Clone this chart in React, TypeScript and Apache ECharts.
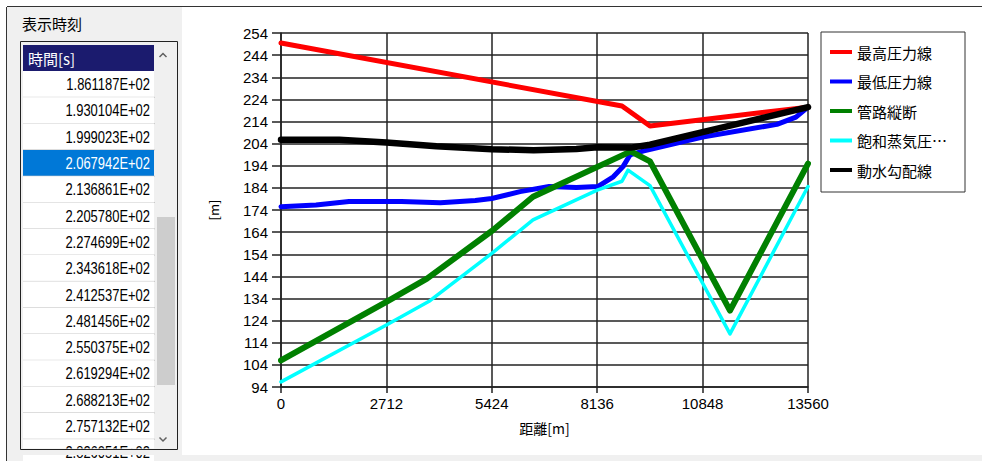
import React, { useEffect, useRef } from "react";
import * as echarts from "echarts";

// ---- axis ranges / ticks ----
const X_MAX = 13560;
const X_INTERVAL = 2712;
const Y_MIN = 94;
const Y_MAX = 254;
const Y_INTERVAL = 10;

// ---- series names (legend) ----
const SERIES_NAMES = ["最高圧力線", "最低圧力線", "管路縦断", "飽和蒸気圧線", "動水勾配線"];
const LEGEND_LABELS = ["最高圧力線", "最低圧力線", "管路縦断", "飽和蒸気圧…", "動水勾配線"];

// ---- data (distance [m], head [m]) ----
const RED_X = [0, 8774, 9494, 13560];
const RED_Y = [249.5, 221, 212, 220.5];

const BLUE_X = [0, 900, 1750, 3100, 4100, 5000, 5424, 6150, 6900, 7600, 8150, 8550, 8800, 8980, 9314, 10848, 12760, 13250, 13560];
const BLUE_Y = [175.5, 176.3, 177.8, 177.8, 177.3, 178.3, 179.2, 182.3, 184.6, 184.2, 184.6, 189, 193.6, 198.9, 200.6, 207, 212.7, 216, 220.5];

const GREEN_X = [0, 2712, 3756, 5424, 6484, 9000, 9494, 11553, 13560];
const GREEN_Y = [106, 132.5, 143, 164.5, 180, 200.5, 196, 128.5, 195];

const CYAN_X = [0, 2712, 3834, 5424, 6484, 8136, 8774, 8930, 9494, 11553, 13560];
const CYAN_Y = [96.3, 122, 133, 154.4, 169.5, 183, 187, 192, 185, 118, 184.6];

const BLACK_X = [0, 1500, 2712, 4000, 5424, 6500, 7600, 8136, 9000, 9494, 10848, 12400, 13560];
const BLACK_Y = [205.7, 205.7, 204.5, 202.8, 201.5, 201, 201.6, 202.4, 202.2, 203.5, 209.2, 215.6, 220.5];

// ---- list panel ----
const PANEL_TITLE = "表示時刻";
const LIST_HEADER = "時間[s]";
const LIST_TIMES = [
  "1.861187E+02", "1.930104E+02", "1.999023E+02", "2.067942E+02", "2.136861E+02",
  "2.205780E+02", "2.274699E+02", "2.343618E+02", "2.412537E+02", "2.481456E+02",
  "2.550375E+02", "2.619294E+02", "2.688213E+02", "2.757132E+02", "2.826051E+02",
];
const SELECTED_INDEX = 3;

const X_NAME = "距離[m]";
const Y_NAME = "[m]";

const CJK = "'Noto Sans CJK JP', 'Noto Sans', sans-serif";
const LATIN = "'Liberation Sans', Arial, sans-serif";

function pairs(xs: number[], ys: number[]) {
  return xs.map((x, i) => [x, ys[i] - Y_MIN]);
}

function buildGraphic() {
  const g: any[] = [];
  g.push({ type: "rect", shape: { x: 7, y: 7, width: 175, height: 454 }, style: { fill: "#f0f0f0" } });
  g.push({ type: "rect", shape: { x: 7, y: 455, width: 975, height: 6 }, style: { fill: "#f0f0f0" } });
  g.push({ type: "line", shape: { x1: 7, y1: 6.5, x2: 982, y2: 6.5 }, style: { stroke: "#333", lineWidth: 1 } });
  g.push({ type: "line", shape: { x1: 6.5, y1: 7, x2: 6.5, y2: 461 }, style: { stroke: "#333", lineWidth: 1 } });
  g.push({
    type: "text", x: 22, y: 23,
    style: { text: PANEL_TITLE, fontSize: 15, fontFamily: CJK, fill: "#000", align: "left", verticalAlign: "middle", textAlign: "left", textVerticalAlign: "middle" },
  });
  g.push({ type: "rect", shape: { x: 21, y: 42, width: 156, height: 407 }, style: { fill: "#f0f0f0" } });
  g.push({ type: "rect", shape: { x: 23, y: 45, width: 131, height: 26 }, style: { fill: "#1b1b6e" } });
  g.push({
    type: "text", x: 28, y: 58,
    style: { text: LIST_HEADER, fontSize: 15, fontFamily: CJK, fill: "#fff", align: "left", verticalAlign: "middle", textAlign: "left", textVerticalAlign: "middle" },
  });
  const rowH = 26.3;
  LIST_TIMES.forEach((t, i) => {
    const y0 = 71 + i * rowH;
    const sel = i === SELECTED_INDEX;
    g.push({ type: "rect", shape: { x: 23, y: y0, width: 131, height: rowH }, style: { fill: sel ? "#0078d7" : "#ffffff" } });
    g.push({ type: "line", shape: { x1: 23, y1: y0 + rowH, x2: 155, y2: y0 + rowH }, style: { stroke: "#c8c8c8", lineWidth: 1 } });
    g.push({
      type: "text", x: 150, y: y0 + rowH / 2 + 0.5, scaleX: 0.81,
      style: { text: t, fontSize: 16, fontFamily: LATIN, fill: sel ? "#fff" : "#000", align: "right", verticalAlign: "middle", textAlign: "right", textVerticalAlign: "middle" },
    });
  });
  g.push({ type: "rect", shape: { x: 155, y: 43, width: 22, height: 406 }, style: { fill: "#f0f0f0" } });
  g.push({ type: "rect", shape: { x: 157, y: 217, width: 18, height: 168 }, style: { fill: "#cdcdcd" } });
  g.push({ type: "polyline", shape: { points: [[159.5, 57], [163, 53.5], [166.5, 57]] }, style: { stroke: "#606060", lineWidth: 1.5, fill: null } });
  g.push({ type: "polyline", shape: { points: [[159.5, 437.5], [163, 441], [166.5, 437.5]] }, style: { stroke: "#606060", lineWidth: 1.5, fill: null } });
  g.push({ type: "rect", shape: { x: 8, y: 448.5, width: 174, height: 6.5 }, style: { fill: "#f0f0f0" } });
  g.push({ type: "rect", shape: { x: 20.5, y: 41.5, width: 157, height: 408 }, style: { fill: null, stroke: "#222", lineWidth: 1 } });
  return g;
}

export default function App() {
  const ref = useRef<HTMLDivElement>(null);
  useEffect(() => {
    if (!ref.current) return;
    const chart = echarts.init(ref.current, undefined, { renderer: "svg" });
    const colors = ["#ff0000", "#0000ff", "#008000", "#00ffff", "#000000"];
    const widths = [5, 5, 6, 3.5, 6.5];
    const datasets = [
      pairs(RED_X, RED_Y),
      pairs(BLUE_X, BLUE_Y),
      pairs(GREEN_X, GREEN_Y),
      pairs(CYAN_X, CYAN_Y),
      pairs(BLACK_X, BLACK_Y),
    ];
    const axisLine = { show: true, lineStyle: { color: "#222", width: 1.5 } };
    chart.setOption({
      animation: false,
      backgroundColor: "#ffffff",
      grid: { left: 281, right: 174, top: 33, bottom: 74, containLabel: false },
      xAxis: {
        type: "value",
        min: 0,
        max: X_MAX,
        interval: X_INTERVAL,
        name: X_NAME,
        nameLocation: "middle",
        nameGap: 41,
        nameTextStyle: { fontSize: 14, fontFamily: CJK, color: "#000", verticalAlign: "middle" },
        axisLine,
        axisTick: { show: true, inside: false, length: 6, lineStyle: { color: "#222", width: 1.5 } },
        axisLabel: { fontSize: 15, fontFamily: LATIN, color: "#000", margin: 9, formatter: (v: number) => String(v) },
        splitLine: { show: true, lineStyle: { color: "#222", width: 1.5 } },
      },
      yAxis: {
        type: "value",
        min: 0,
        max: Y_MAX - Y_MIN,
        interval: Y_INTERVAL,
        name: Y_NAME,
        nameLocation: "middle",
        nameGap: 68,
        nameTextStyle: { fontSize: 13, fontFamily: CJK, color: "#000", verticalAlign: "middle" },
        axisLine,
        axisTick: { show: true, inside: false, length: 9, lineStyle: { color: "#222", width: 1.5 } },
        axisLabel: { fontSize: 15, fontFamily: LATIN, color: "#000", margin: 13, formatter: (v: number) => String(v + Y_MIN) },
        splitLine: { show: true, lineStyle: { color: "#222", width: 1.5 } },
      },
      legend: {
        orient: "vertical",
        left: 821,
        top: 32,
        padding: [11, 18, 13, 9],
        itemGap: 11.5,
        itemWidth: 22,
        itemHeight: 4,
        icon: "rect",
        backgroundColor: "#ffffff",
        borderColor: "#333",
        borderWidth: 1,
        textStyle: { fontSize: 15, fontFamily: CJK, color: "#000", lineHeight: 18 },
        formatter: (name: string) => LEGEND_LABELS[SERIES_NAMES.indexOf(name)] ?? name,
        data: SERIES_NAMES,
      },
      series: SERIES_NAMES.map((name, i) => ({
        name,
        type: "line",
        data: datasets[i],
        showSymbol: false,
        symbol: "none",
        smooth: false,
        color: colors[i],
        lineStyle: { color: colors[i], width: widths[i], join: "round", cap: "round" },
        itemStyle: { color: colors[i] },
        z: 3 + i,
      })),
      graphic: { elements: buildGraphic() },
    });
    return () => chart.dispose();
  }, []);
  return <div ref={ref} style={{ position: "fixed", left: 0, top: 0, width: 982, height: 461 }} />;
}
